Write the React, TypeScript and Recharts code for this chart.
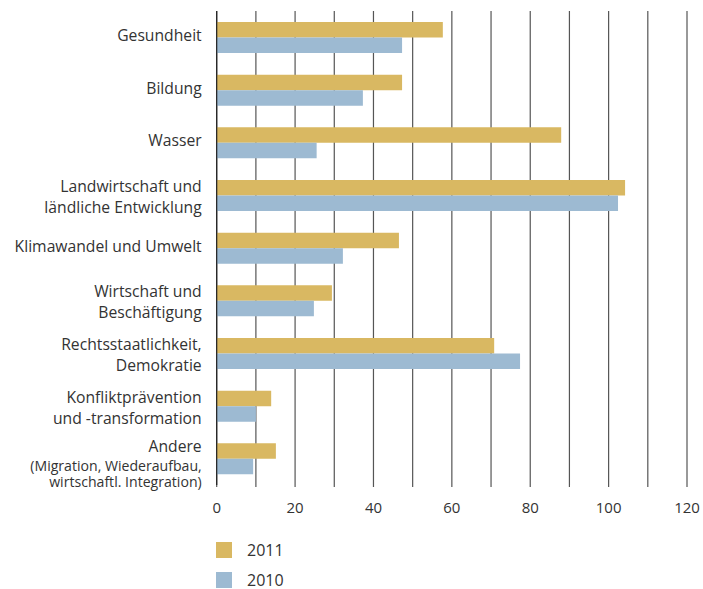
import React from 'react';
import { BarChart, Bar, XAxis, YAxis, CartesianGrid, Legend } from 'recharts';

// category labels, one entry per line of the label
const categories: string[][] = [
  ['Gesundheit'],
  ['Bildung'],
  ['Wasser'],
  ['Landwirtschaft und', 'ländliche Entwicklung'],
  ['Klimawandel und Umwelt'],
  ['Wirtschaft und', 'Beschäftigung'],
  ['Rechtsstaatlichkeit,', 'Demokratie'],
  ['Konfliktprävention', 'und -transformation'],
  ['Andere', '(Migration, Wiederaufbau,', 'wirtschaftl. Integration)'],
];

const values2011 = [57.7, 47.3, 87.9, 104.2, 46.5, 29.4, 70.8, 13.9, 15.1];
const values2010 = [47.3, 37.3, 25.5, 102.4, 32.2, 24.8, 77.4, 10.0, 9.3];

const xTicks = [0, 10, 20, 30, 40, 50, 60, 70, 80, 90, 100, 110, 120];

const series = [
  { key: 'y2011', label: '2011', color: '#D9B862' },
  { key: 'y2010', label: '2010', color: '#9DBAD2' },
];

const data = categories.map((lines, i) => ({
  name: lines.join('|'),
  y2011: values2011[i],
  y2010: values2010[i],
}));

const textColor = '#333';
const font = '"Open Sans", sans-serif';

function CategoryTick({ x, y, payload }: any) {
  const lines: string[] = String(payload.value).split('|');
  const n = lines.length;
  const offsets = n === 1 ? [-2] : n === 2 ? [-9, 12] : [-12, 7, 23];
  return (
    <g>
      {lines.map((line, i) => {
        const size = n === 3 && i > 0 ? 14.1 : 15.7;
        return (
          <text
            key={i}
            x={x}
            y={y + offsets[i] + size * 0.36}
            textAnchor="end"
            fill={textColor}
            fontSize={size}
            fontFamily={font}
          >
            {line}
          </text>
        );
      })}
    </g>
  );
}

function LegendBox() {
  return (
    <div style={{ fontFamily: font }}>
      {series.map((s, i) => (
        <div
          key={s.key}
          style={{ display: 'flex', alignItems: 'center', height: 16, marginTop: i === 0 ? 0 : 14 }}
        >
          <span style={{ width: 16, height: 16, background: s.color, display: 'inline-block' }} />
          <span style={{ marginLeft: 15, fontSize: 16, lineHeight: '16px', color: textColor }}>{s.label}</span>
        </div>
      ))}
    </div>
  );
}

export default function App() {
  // pinned to the window so the body margin cannot push it into scrollbars
  return (
    <div
      style={{
        position: 'fixed',
        top: 0,
        left: 0,
        width: 703,
        height: 589,
        overflow: 'hidden',
        background: '#fff',
        fontFamily: font,
      }}
    >
      <BarChart
        width={703}
        height={589}
        data={data}
        layout="vertical"
        margin={{ top: 11, right: 16, left: 0, bottom: 0 }}
        barSize={15.5}
        barGap={0}
      >
        <CartesianGrid horizontal={false} stroke="#555" strokeWidth={1.2} />
        <XAxis
          type="number"
          domain={[0, 120]}
          ticks={xTicks}
          interval={0}
          height={104}
          axisLine={false}
          tickLine={{ stroke: '#555', strokeWidth: 1.2 }}
          tickSize={2}
          tickMargin={15.5}
          tickFormatter={(v: number) => (v % 20 === 0 ? String(v) : '')}
          tick={{ fill: textColor, fontSize: 15, fontFamily: font }}
        />
        <YAxis
          type="category"
          dataKey="name"
          width={216.7}
          axisLine={{ stroke: '#222', strokeWidth: 1.2 }}
          tickLine={false}
          tickSize={0}
          tickMargin={15}
          interval={0}
          tick={<CategoryTick />}
        />
        {series.map((s) => (
          <Bar key={s.key} dataKey={s.key} name={s.label} fill={s.color} isAnimationActive={false} />
        ))}
        <Legend
          layout="horizontal"
          verticalAlign="middle"
          align="center"
          wrapperStyle={{ top: 542, left: 216, width: 200, height: 46 }}
          content={() => <LegendBox />}
        />
      </BarChart>
    </div>
  );
}
